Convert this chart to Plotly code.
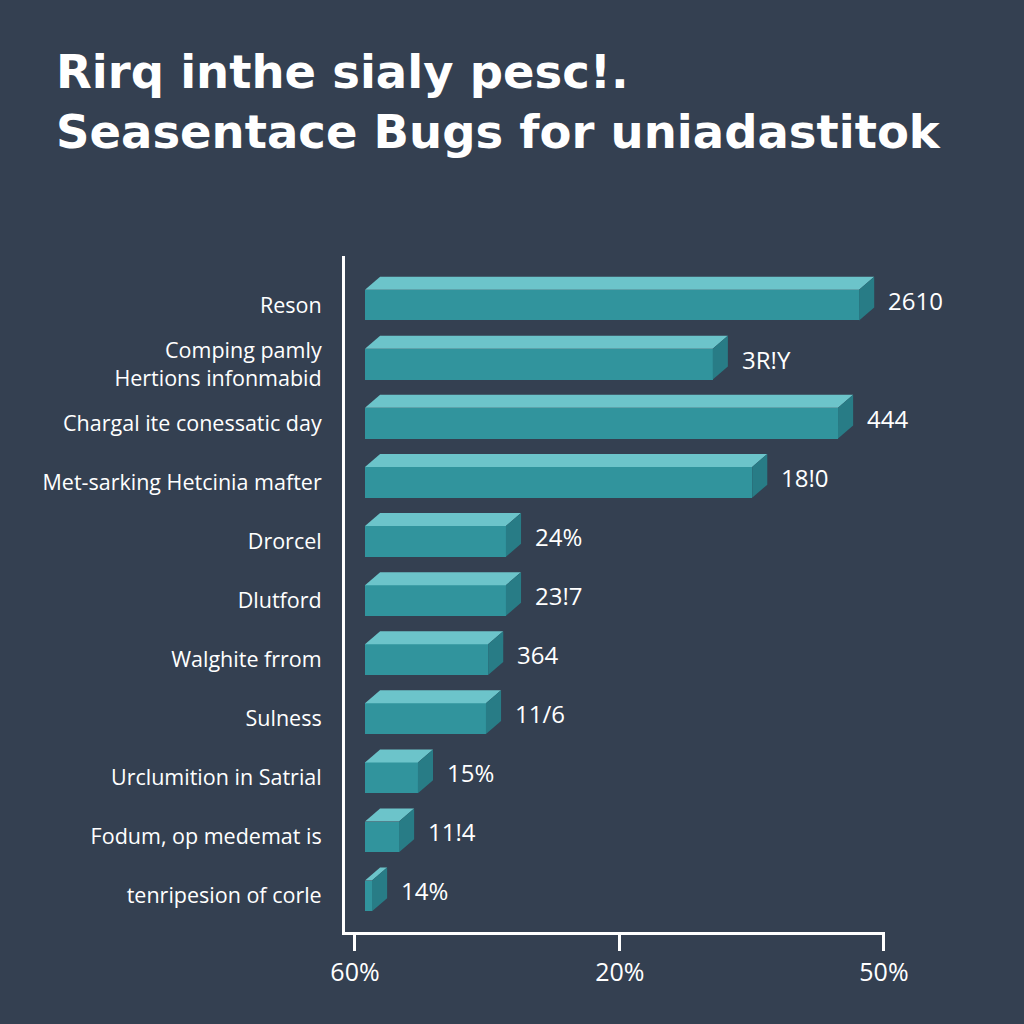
import plotly.graph_objects as go

# ---- data ----
categories = [
    "Reson",
    "Comping pamly<br>Hertions infonmabid",
    "Chargal ite conessatic day",
    "Met-sarking Hetcinia mafter",
    "Drorcel",
    "Dlutford",
    "Walghite frrom",
    "Sulness",
    "Urclumition in Satrial",
    "Fodum, op medemat is",
    "tenripesion of corle",
]
values = [91.5, 64.4, 87.6, 71.7, 26.1, 26.1, 22.8, 22.4, 9.8, 6.3, 1.3]
value_labels = ["2610", "3R!Y", "444", "18!0", "24%", "23!7", "364", "11/6", "15%", "11!4", "14%"]
x_tick_vals = [-1.85, 47.2, 96.1]
x_tick_text = ["60%", "20%", "50%"]

# ---- style ----
BG = "#344051"
FRONT = "#31949d"
TOP = "#6cc4ca"
SIDE = "#287c86"
FONT = "Open Sans"
BAR_W = 0.52
DX = 2.8     # depth offset in x units
DY = 0.22    # depth offset in y units

ypos = list(range(len(categories)))

fig = go.Figure()
fig.add_trace(go.Bar(
    x=values, y=ypos, orientation="h", base=0, width=BAR_W,
    marker=dict(color=FRONT, line=dict(width=0)),
    hoverinfo="skip", showlegend=False,
))

shapes = []
annotations = []
for yi, v, lab in zip(ypos, values, value_labels):
    yt = yi - BAR_W / 2
    yb = yi + BAR_W / 2
    top_path = f"M 0 {yt} L {v} {yt} L {v + DX} {yt - DY} L {DX} {yt - DY} Z"
    side_path = f"M {v} {yt} L {v + DX} {yt - DY} L {v + DX} {yb - DY} L {v} {yb} Z"
    shapes.append(dict(type="path", path=top_path, xref="x", yref="y",
                       fillcolor=TOP, line=dict(width=0), layer="above"))
    shapes.append(dict(type="path", path=side_path, xref="x", yref="y",
                       fillcolor=SIDE, line=dict(width=0), layer="above"))
    annotations.append(dict(
        x=v + DX, y=yi, xref="x", yref="y", text=lab, showarrow=False,
        xanchor="left", yanchor="middle", xshift=12, yshift=5,
        font=dict(family=FONT, size=24, color="white"),
    ))

fig.update_layout(
    width=1024, height=1024,
    paper_bgcolor=BG, plot_bgcolor=BG,
    margin=dict(l=345, r=139, t=256, b=92),
    title=dict(
        text="Rirq inthe sialy pesc!.<br>Seasentace Bugs for uniadastitok",
        x=56 / 1024, xref="container", xanchor="left",
        y=1 - 88 / 1024, yref="container", yanchor="top",
        font=dict(family="DejaVu Sans", size=46.5, color="white", weight="bold"),
    ),
    shapes=shapes,
    annotations=annotations,
    bargap=0,
    showlegend=False,
)
fig.update_xaxes(
    range=[-3.7, 96.3], showgrid=False, zeroline=False,
    showline=True, linecolor="white", linewidth=3,
    ticks="outside", ticklen=16, tickwidth=3, tickcolor="white",
    tickvals=x_tick_vals, ticktext=x_tick_text,
    tickfont=dict(family=FONT, size=25, color="white"),
)
fig.update_yaxes(
    range=[10.61, -0.83], showgrid=False, zeroline=False,
    showline=True, linecolor="white", linewidth=3,
    ticks="outside", ticklen=16, tickcolor="rgba(0,0,0,0)",
    tickvals=ypos, ticktext=categories,
    tickfont=dict(family=FONT, size=21.5, color="white"),
)

fig.write_html("out.html")
